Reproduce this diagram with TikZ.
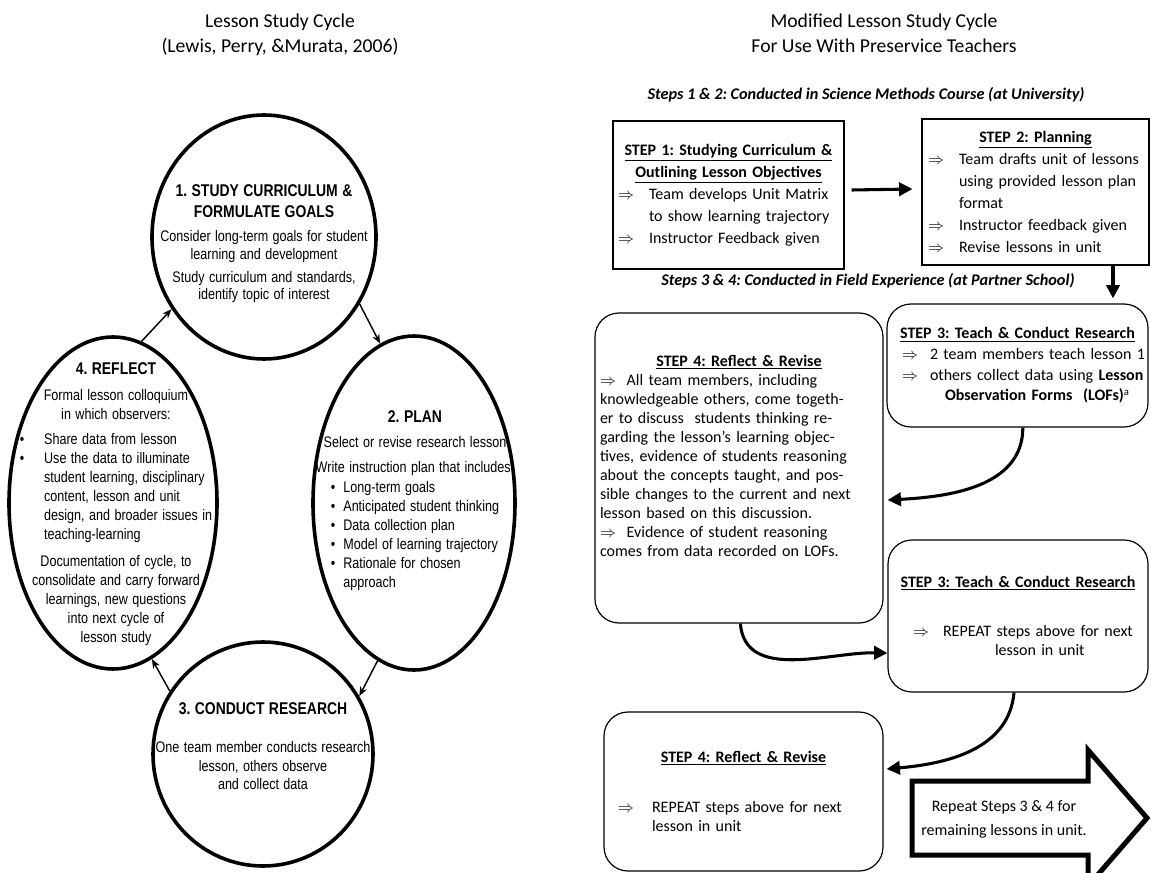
\documentclass[tikz,border=0pt]{standalone}
\usepackage{fontspec}
\setmainfont{Carlito}
\newfontfamily\scanfont[FakeStretch=0.82]{Liberation Sans}
\usetikzlibrary{shapes.geometric,arrows.meta}
\newcommand{\itm}[3]{\par\noindent\hangindent=\dimexpr#1+#2\relax\hangafter=1\hspace*{#1}\makebox[#2][l]{$\Rightarrow$}#3\par}
\newcommand{\hd}{\fontsize{12.75}{15.75}\selectfont\bfseries}
\frenchspacing
\begin{document}
\begin{tikzpicture}[x=0.75pt,y=-0.75pt]
		\tikzset{ring/.style={ellipse,draw,line width=2.7pt,inner sep=0pt},
			ringtext/.style={font=\scanfont,align=center,inner sep=0pt,anchor=north,text width=175pt},
			cyc/.style={-{Stealth[length=7pt,width=5.5pt]},line width=1.1pt},
			stepbox/.style={draw,line width=0.9pt,align=left,inner xsep=6pt,inner ysep=2pt},
			roundbox/.style={stepbox,rounded corners=18pt},
			fat/.style={-{Triangle[length=10pt,width=10pt]},line width=2.3pt},
			title/.style={font=\fontsize{14.75}{17}\selectfont,anchor=base},
			phase/.style={font=\fontsize{12.2}{14}\selectfont\bfseries\itshape,anchor=base}}
		\useasboundingbox (0,0) rectangle (1151,873);
		\node[title] (lsc) at (280,28) {Lesson Study Cycle};
		\node[title] (lsref) at (280,53) {(Lewis, Perry, \&Murata, 2006)};
		\node[title] (msc) at (884,28) {Modified Lesson Study Cycle};
		\node[title] (msfor) at (884,53) {For Use With Preservice Teachers};
		\node[ring,minimum width=168pt,minimum height=183pt] (c1) at (264,237) {};
		\node[ring,minimum width=151.5pt,minimum height=250.5pt] (c2) at (414,503) {};
		\node[ring,minimum width=165pt,minimum height=168pt] (c3) at (263,754) {};
		\node[ring,minimum width=156pt,minimum height=249pt] (c4) at (113,503) {};
		\node[ringtext] (t1) at (264,184.5) {{\hd 1. STUDY CURRICULUM \&\\ FORMULATE GOALS\par}\vspace{4.8pt}
			{\fontsize{11.5}{13.2}\selectfont Consider long-term goals for student\\ learning and development\par\vspace{4pt}
			Study curriculum and standards,\\ identify topic of interest\par}};
		\node[ringtext] (t2) at (415,410.5) {{\hd 2. PLAN\par}\vspace{4.5pt}
			{\fontsize{11.5}{14.25}\selectfont Select or revise research lesson\par\vspace{4.5pt}
			Write instruction plan that includes:\par\vspace{0.75pt}
			\begin{tabular}[t]{@{}l@{\hspace{6pt}}l@{}}
			\textbullet&Long-term goals\\ \textbullet&Anticipated student thinking\\ \textbullet&Data collection plan\\
			\textbullet&Model of learning trajectory\\ \textbullet&Rationale for chosen\\ &approach
			\end{tabular}\par}};
		\node[ringtext] (t4) at (116,362) {{\hd 4. REFLECT\par}\vspace{5.25pt}
			{\fontsize{11.5}{14.25}\selectfont Formal lesson colloquium\\ in which observers:\par\vspace{4.5pt}
			\begin{tabular}[t]{@{}l@{\hspace{15pt}}l@{}}
			\textbullet&Share data from lesson\\ \textbullet&Use the data to illuminate\\ &student learning, disciplinary\\
			&content, lesson and unit\\ &design, and broader issues in\\ &teaching-learning
			\end{tabular}\par\vspace{6.6pt}
			Documentation of cycle, to\\ consolidate and carry forward\\ learnings, new questions\\ into next cycle of\\ lesson study\par}};
		\node[ringtext] (t3) at (263,702.5) {{\hd 3. CONDUCT RESEARCH\par}\vspace{14.7pt}
			{\fontsize{11.5}{13.9}\selectfont One team member conducts research\\ lesson, others observe\\ and collect data\par}};
		\path[cyc] (c1.-35) edge (c2.102)
		(c2.-103) edge (c3.31)
		(c3.146) edge (c4.-76)
		(c4.80) edge (c1.-142);
		\node[phase] (ph12) at (866,100) {Steps 1 \& 2: Conducted in Science Methods Course (at University)};
		\node[phase] (ph34) at (868,286) {Steps 3 \& 4: Conducted in Field Experience (at Partner School)};
		\node[stepbox,minimum width=173.25pt,minimum height=111pt,inner xsep=3.75pt,text width=165.75pt,
			font=\fontsize{12}{16.5}\selectfont] (s1) at (728.5,195) {{\centering\underline{\textbf{STEP 1: Studying Curriculum \&}}\\
			\underline{\textbf{Outlining Lesson Objectives}}\par}
			\itm{0pt}{23.25pt}{\mbox{Team develops Unit Matrix}\newline\mbox{to show learning trajectory}}
			\itm{0pt}{23.25pt}{\mbox{Instructor Feedback given}}};
		\node[stepbox,minimum width=170.25pt,minimum height=109.5pt,inner xsep=4.5pt,text width=161.25pt,
			font=\fontsize{12}{16.5}\selectfont] (s2) at (1035.5,192) {{\centering\underline{\textbf{STEP 2: Planning}}\par}
			\itm{0pt}{23.25pt}{\mbox{Team drafts unit of lessons}\newline\mbox{using provided lesson plan}\newline\mbox{format}}
			\itm{0pt}{23.25pt}{\mbox{Instructor feedback given}}
			\itm{0pt}{23.25pt}{\mbox{Revise lessons in unit}}};
		\node[roundbox,minimum width=216pt,minimum height=232.5pt,inner xsep=3.75pt,text width=208.5pt,
			font=\fontsize{12}{14.25}\selectfont] (s4) at (739,468) {{\centering\underline{\textbf{STEP 4: Reflect \& Revise}}\par}
			\noindent$\Rightarrow$\ \ All team members, including\newline
			knowledgeable others, come togeth-\newline
			er to discuss\ \ students thinking re-\newline
			garding the lesson’s learning objec-\newline
			tives, evidence of students reasoning\newline
			about the concepts taught, and pos-\newline
			sible changes to the current and next\newline
			lesson based on this discussion.\newline
			$\Rightarrow$\ \ Evidence of student reasoning\newline
			comes from data recorded on LOFs.\par\vspace{4pt}\hbox{}};
		\node[roundbox,minimum width=195.75pt,minimum height=92.25pt,text width=183.75pt,
			font=\fontsize{12}{15.5}\selectfont] (s3a) at (1017.5,365.5) {{\centering\underline{\textbf{STEP 3: Teach \& Conduct Research}}\par}
			\itm{5.25pt}{21pt}{\mbox{2 team members teach lesson 1}}
			\itm{5.25pt}{21pt}{\mbox{others collect data using \textbf{Lesson}}\newline\mbox{\hspace*{11.25pt}\textbf{Observation Forms}\ \ \textbf{(LOFs)}\textsuperscript{a}}}};
		\node[roundbox,minimum width=195pt,minimum height=114pt,text width=183pt,
			font=\fontsize{12}{14}\selectfont] (s3b) at (1018,616) {{\centering\underline{\textbf{STEP 3: Teach \& Conduct Research}}\par}\vspace{22.75pt}
			\itm{12.75pt}{22.5pt}{\mbox{REPEAT steps above for next}\newline\mbox{\hspace*{39pt}lesson in unit}}};
		\node[roundbox,minimum width=209.25pt,minimum height=119.25pt,text width=197.25pt,
			font=\fontsize{12}{14.25}\selectfont] (s4b) at (743.5,791.5) {{\centering\underline{\textbf{STEP 4: Reflect \& Revise}}\par}\vspace{23.25pt}
			\itm{4.5pt}{25.5pt}{\mbox{REPEAT steps above for next}\newline\mbox{lesson in unit}}};
		\path[fat] ([xshift=5.25pt,yshift=3.75pt]s1.east) edge ([xshift=-6.75pt,yshift=2.25pt]s2.west)
		([xshift=58.1pt]s2.south) edge ([xshift=71.6pt,yshift=3.75pt]s3a.north)
		([xshift=4pt]s3a.south) edge[out=-90,in=3] ([xshift=3pt,yshift=-24pt]s4.east)
		([xshift=1pt]s4.south) edge[out=-85,in=179] ([yshift=-27.75pt]s3b.west)
		([xshift=-3pt]s3b.south) edge[out=-95,in=5] ([xshift=2.25pt,yshift=16.9pt]s4b.east);
		\draw[line width=3.75pt] (912,781) -- (1088,781) -- (1088,750) -- (1147,818) -- (1088,886) -- (1088,855) -- (912,855) -- cycle;
		\node[font=\fontsize{12}{18}\selectfont,align=center] (rep) at (1004,819) {Repeat Steps 3 \& 4 for\\ remaining lessons in unit.};
	\end{tikzpicture}
\end{document}
